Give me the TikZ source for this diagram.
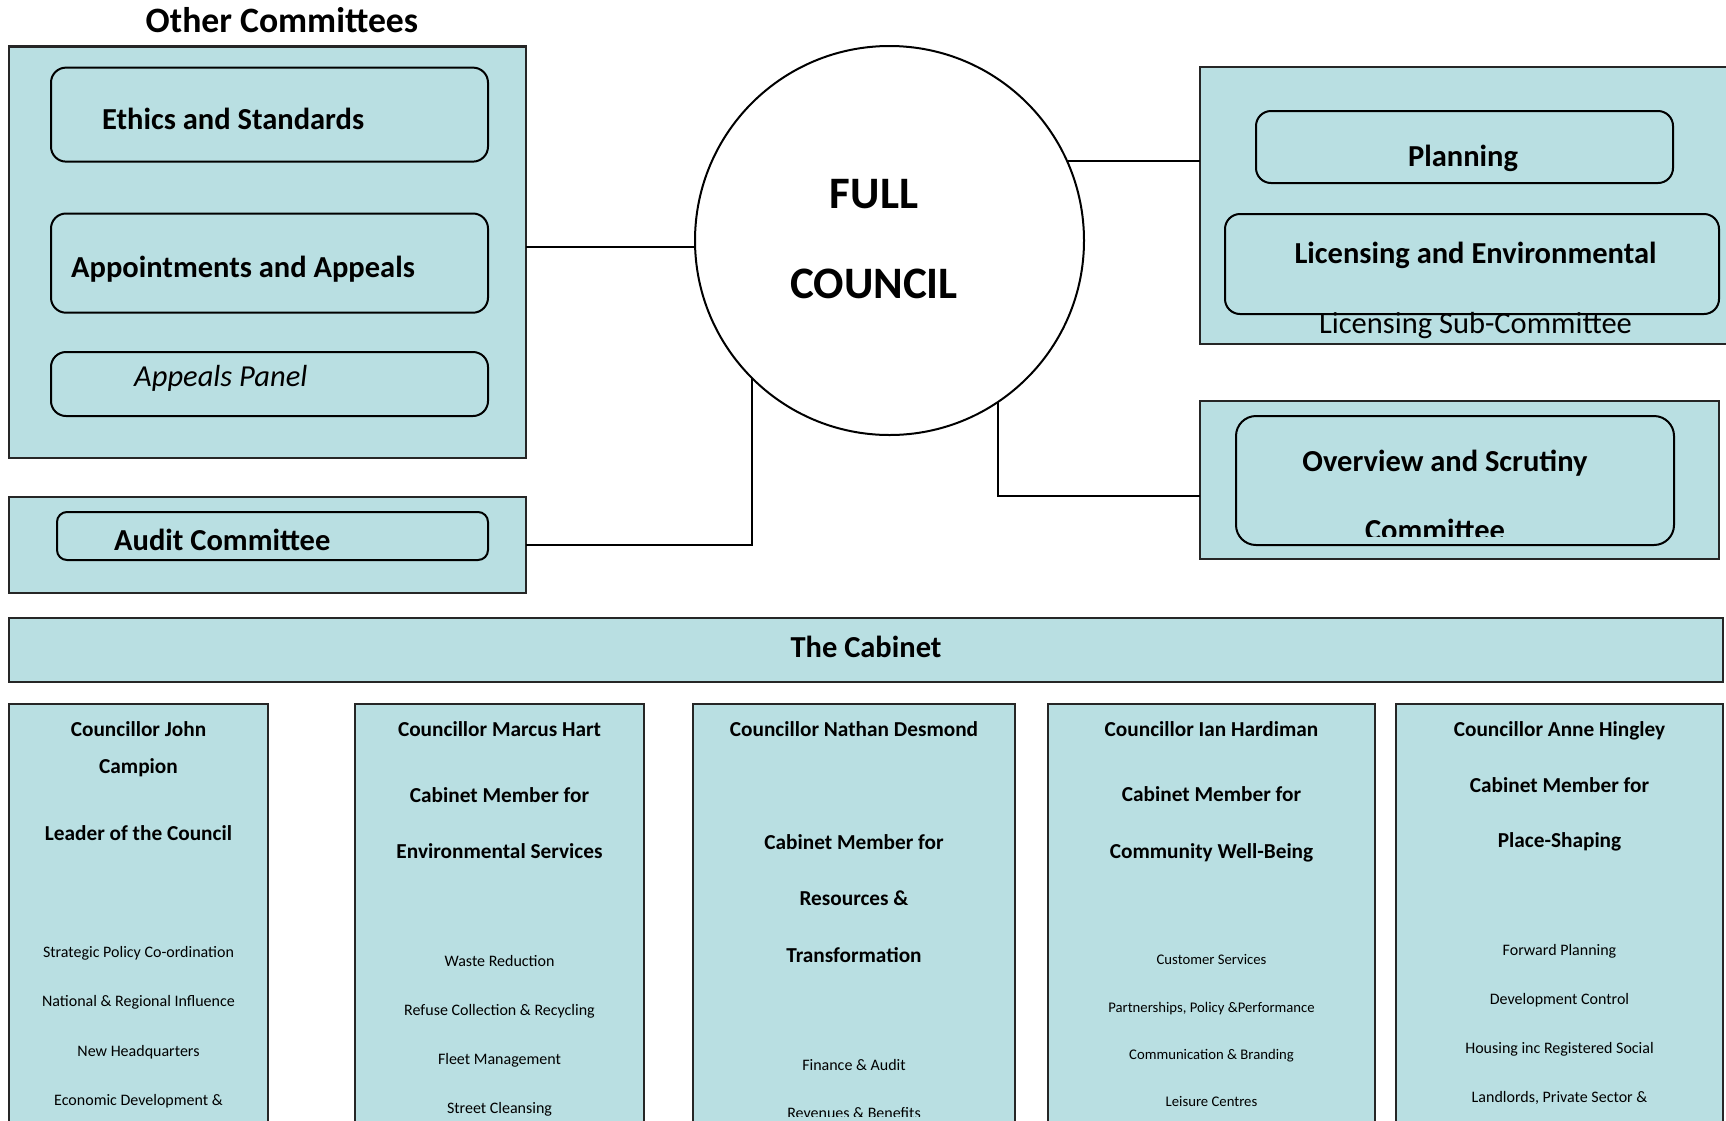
\documentclass[tikz,border=0pt]{standalone}
\usepackage{fontspec}
\setmainfont{Carlito}
\definecolor{panelblue}{RGB}{185,223,226}

\begin{document}
\begin{tikzpicture}[x=1pt,y=-1pt,
        outerbox/.style={rectangle, draw=black!85, line width=2.4pt, fill=panelblue, inner sep=0pt, outer sep=0pt},
        roundbox/.style={rectangle, draw=black, line width=2pt, fill=panelblue, rounded corners=15pt, inner sep=0pt, outer sep=0pt},
        link/.style={draw=black, line width=2pt},
        big/.style={font=\fontsize{30.5}{36}\selectfont\bfseries, inner sep=0pt},
        head/.style={font=\fontsize{21.3}{25}\selectfont\bfseries, inner sep=0pt, anchor=base},
        item/.style={font=\fontsize{16}{19}\selectfont, inner sep=0pt, anchor=base}]

        \useasboundingbox (0,0) rectangle (1726,1120);

        % other committees
        \node[font=\fontsize{35.7}{40}\selectfont\bfseries, inner sep=0pt, anchor=base] (othertitle) at (282,32) {Other Committees};
        \node[outerbox, minimum width=517pt, minimum height=411.3pt] (other) at (267.5,252.3) {};
        \node[roundbox, minimum width=437pt, minimum height=94pt] (ethics) at (269.5,114.6) {};
        \node[roundbox, minimum width=437pt, minimum height=99.2pt] (appoint) at (269.5,263.1) {};
        \node[roundbox, minimum width=437pt, minimum height=64pt] (panel) at (269.5,384) {};
        \node[big, anchor=base west] (ethicstext) at (102,129) {Ethics and Standards};
        \node[big, anchor=base west] (appointtext) at (71,277.5) {Appointments and Appeals};
        \node[big, anchor=base west, font=\fontsize{30.5}{36}\selectfont\itshape] (paneltext) at (134,386.5) {Appeals Panel};

        \node[outerbox, minimum width=517pt, minimum height=96pt] (auditbox) at (267.5,544.7) {};
        \node[roundbox, rounded corners=10pt, minimum width=431pt, minimum height=48pt] (audit) at (272.5,536) {};
        \node[big, anchor=base west] (audittext) at (114,550) {Audit Committee};

        % full council
        \node[circle, draw=black, line width=2pt, fill=white, minimum size=389pt, inner sep=0pt, outer sep=0pt] (council) at (889.5,240.5) {};
        \node[font=\fontsize{45}{50}\selectfont\bfseries, inner sep=0pt, anchor=base] (full) at (874,208.6) {FULL};
        \node[font=\fontsize{45}{50}\selectfont\bfseries, inner sep=0pt, anchor=base] (councilword) at (874,298.5) {COUNCIL};

        % regulatory committees
        \node[outerbox, minimum width=540pt, minimum height=277pt] (regbox) at (1470,205.5) {};
        \node[roundbox, minimum width=417pt, minimum height=72pt] (planning) at (1464.5,147) {};
        \node[roundbox, minimum width=494pt, minimum height=100pt] (licensing) at (1472,264) {};
        \node[big, anchor=base] (planningtext) at (1463,166) {Planning};
        \node[big, anchor=base] (licensingtext) at (1475.5,263) {Licensing and Environmental};
        \node[big, anchor=base, font=\fontsize{30.5}{36}\selectfont] (subtext) at (1475.5,333) {Licensing Sub-Committee};

        \node[outerbox, minimum width=519pt, minimum height=158pt] (scrutiny) at (1459.5,480) {};
        \node[roundbox, rounded corners=20pt, minimum width=438pt, minimum height=129pt] (overview) at (1455,480.5) {};
        \node[big, anchor=base] (overviewtext) at (1445,471) {Overview and Scrutiny};
        \begin{scope}
            \clip (1236,416) rectangle (1674,536);
            \node[big, anchor=base] (committeetext) at (1435,540) {Committee};
        \end{scope}

        % links to the council
        \draw[link] (council.182) -- (council.182 -| other.east);
        \draw[link] (auditbox.east) -| (council.225);
        \draw[link] (council.24) -- (council.24 -| regbox.west);
        \draw[link] (council.304) |- ([yshift=-16pt]scrutiny.west);

        % cabinet
        \node[outerbox, minimum width=1714pt, minimum height=64pt] (cabinet) at (866,650) {};
        \node[big, anchor=base] (cabinettext) at (866,657) {The Cabinet};
        \foreach \n/\l/\r in {1/9/268, 2/355/644, 3/693/1015, 4/1048/1375, 5/1396/1723} {
                \node[outerbox, minimum width={(\r-\l)*1pt}, minimum height=436pt] (member\n) at ({(\l+\r)/2},922) {};
            }

        \foreach \y/\t in {736/Councillor John, 773/Campion, 840/Leader of the Council}
            \node[head] (campion-\y) at (138.5,\y) {\t};
        \foreach \y/\t in {957/Strategic Policy Co-ordination, 1006/National \& Regional Influence, 1056/New Headquarters, 1105/Economic Development \&}
            \node[item] (campionjob-\y) at (138.5,\y) {\t};

        \foreach \y/\t in {736/Councillor Marcus Hart, 802/Cabinet Member for, 858/Environmental Services}
            \node[head] (hart-\y) at (499.5,\y) {\t};
        \foreach \y/\t in {966/Waste Reduction, 1015/Refuse Collection \& Recycling, 1064/Fleet Management, 1113/Street Cleansing}
            \node[item] (hartjob-\y) at (499.5,\y) {\t};

        \foreach \y/\t in {736/Councillor Nathan Desmond, 849/Cabinet Member for, 905/Resources \&, 962/Transformation}
            \node[head] (desmond-\y) at (854,\y) {\t};
        \begin{scope}
            \clip (693,1040) rectangle (1015,1116);
            \foreach \y/\t in {1070/Finance \& Audit, 1118.5/Revenues \& Benefits}
                \node[item] (desmondjob-\y) at (854,\y) {\t};
        \end{scope}

        \foreach \y/\t in {736/Councillor Ian Hardiman, 801/Cabinet Member for, 858/Community Well-Being}
            \node[head] (hardiman-\y) at (1211.5,\y) {\t};
        \foreach \y/\t in {964/Customer Services, 1012/{Partnerships, Policy \&Performance}, 1059/Communication \& Branding, 1106/Leisure Centres}
            \node[item, font=\fontsize{14.7}{17}\selectfont] (hardimanjob-\y) at (1211.5,\y) {\t};

        \foreach \y/\t in {736/Councillor Anne Hingley, 792/Cabinet Member for, 847/Place-Shaping}
            \node[head] (hingley-\y) at (1559.5,\y) {\t};
        \foreach \y/\t in {955/Forward Planning, 1004/Development Control, 1053/Housing inc Registered Social, 1102/{Landlords, Private Sector \&}}
            \node[item] (hingleyjob-\y) at (1559.5,\y) {\t};
    \end{tikzpicture}
\end{document}
